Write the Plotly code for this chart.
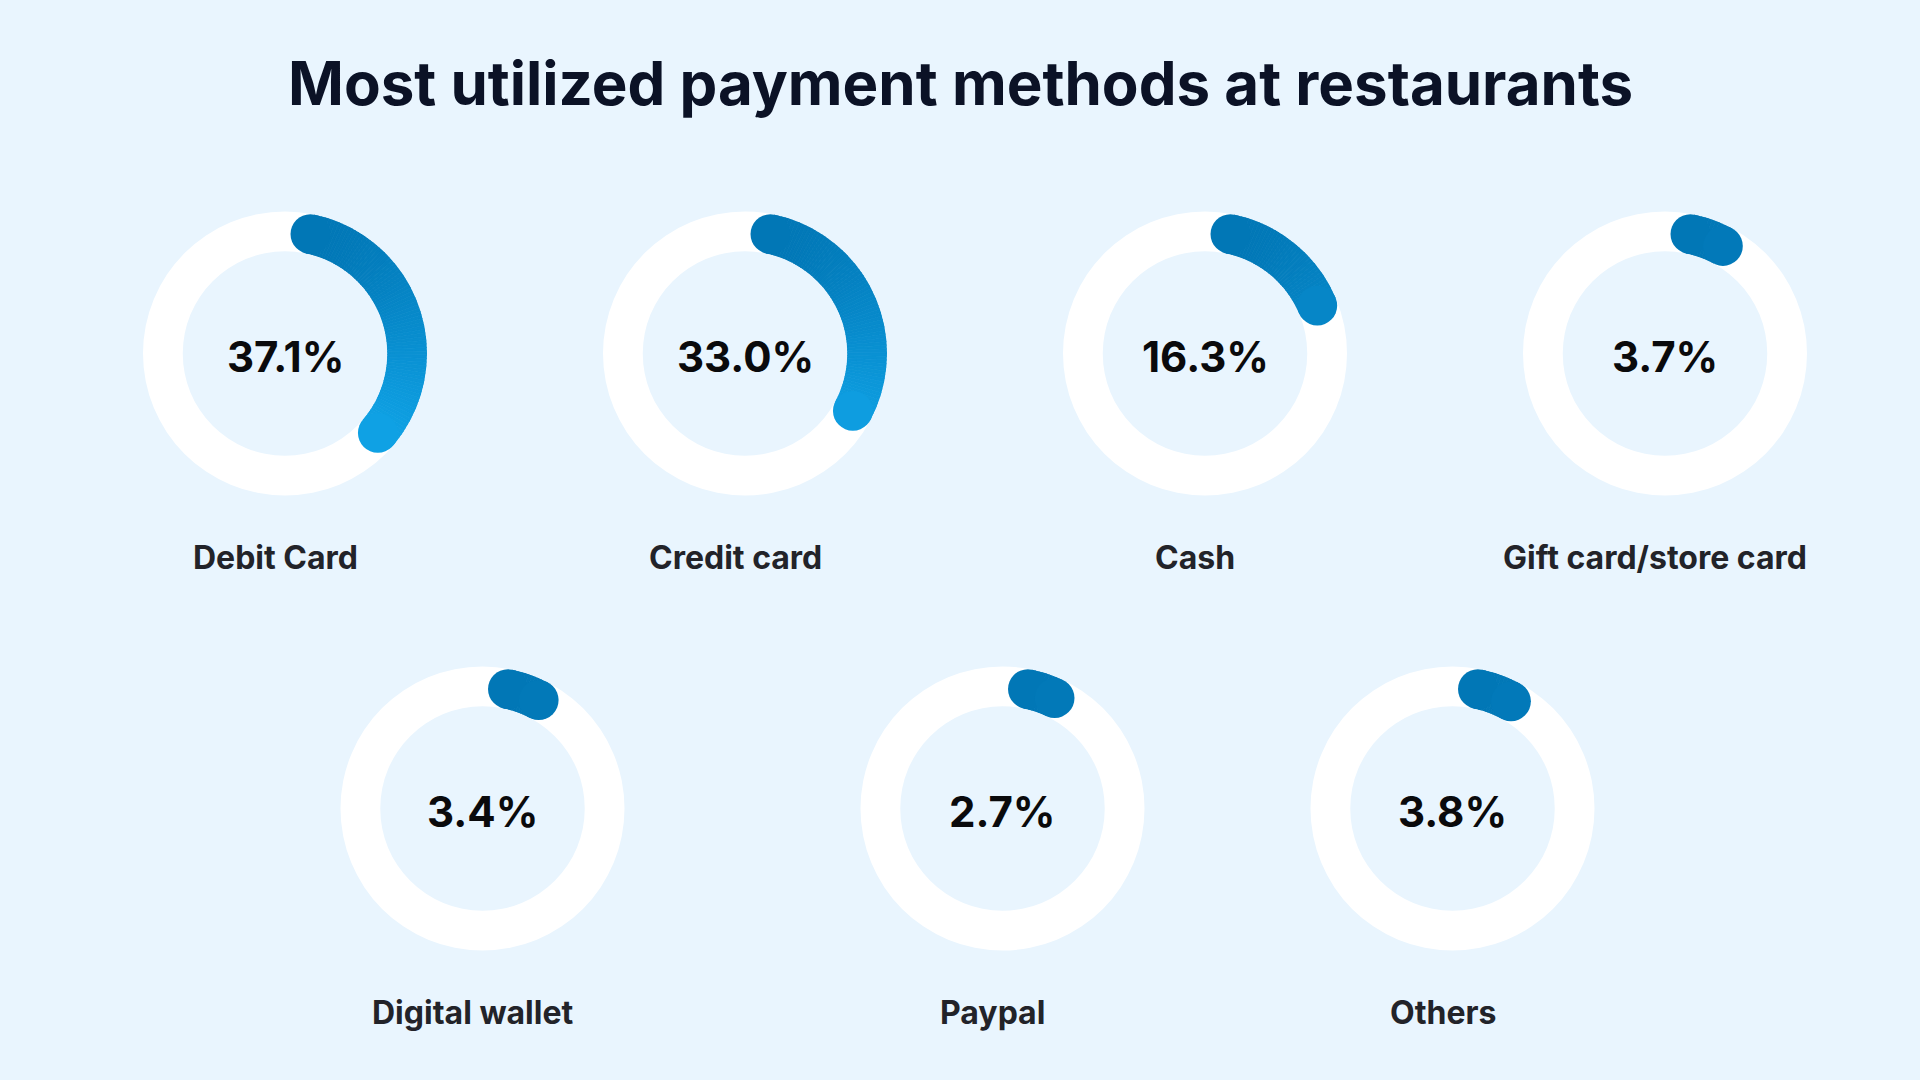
import numpy as np
import plotly.graph_objects as go

# ---------------- data ----------------
methods = ["Debit Card", "Credit card", "Cash", "Gift card/store card",
           "Digital wallet", "Paypal", "Others"]
shares = [37.1, 33.0, 16.3, 3.7, 3.4, 2.7, 3.8]
title_text = "Most utilized payment methods at restaurants"

# ---------------- layout constants ----------------
W, H = 1920, 1080
BG = "#E9F5FE"
TRACK = "#FFFFFF"
DARK = (1, 118, 181)
LIGHT = (15, 161, 228)
R_OUT = 142          # px outer radius
HOLE = 0.72          # inner / outer
RING_PX = R_OUT * (1 - HOLE)
# grid of ring centres (px): 4 on the first row, 3 on the second
row_y = [353.5, 808.5]
col_x = [[285, 745, 1205, 1665], [482.5, 1002.5, 1452.5]]
LABEL_DY = 204       # px from ring centre to category label
LABEL_DX = -10
ARC_START = 12       # deg, first rounded cap centre
ARC_OFFSET = 5       # deg
ARC_GAIN = 0.85      # visual gain of the arc sweep


def mix(t):
    t = float(np.clip(t, 0, 1))
    c = [round(DARK[i] + (LIGHT[i] - DARK[i]) * t) for i in range(3)]
    return "rgb(%d,%d,%d)" % tuple(c)


def color_at(theta_deg):
    yrel = (1 - np.cos(np.radians(theta_deg))) / 2
    return mix(yrel / 0.8)


positions = []
for r, xs in enumerate(col_x):
    for x in xs:
        positions.append((x, row_y[r]))

fig = go.Figure()
layout_polars = {}
annotations = []

for i, (name, val) in enumerate(zip(methods, shares)):
    cx, cy = positions[i]
    key = "polar" if i == 0 else "polar%d" % (i + 1)
    sub = key
    layout_polars[key] = dict(
        domain=dict(x=[(cx - R_OUT) / W, (cx + R_OUT) / W],
                    y=[1 - (cy + R_OUT) / H, 1 - (cy - R_OUT) / H]),
        hole=HOLE,
        bgcolor=TRACK,
        bargap=0,
        angularaxis=dict(direction="clockwise", rotation=90, visible=False,
                         showgrid=False, showline=False, ticks=""),
        radialaxis=dict(range=[0, 1], visible=False, showgrid=False,
                        showline=False, ticks=""),
    )

    th_s = ARC_START
    th_e = ARC_START + ARC_OFFSET + ARC_GAIN * val * 3.6
    n = max(2, int(np.ceil((th_e - th_s) / 1.5)))
    edges = np.linspace(th_s, th_e, n + 1)
    mids = (edges[:-1] + edges[1:]) / 2
    widths = np.diff(edges)
    cols = [color_at(m) for m in mids]
    fig.add_trace(go.Barpolar(
        r=[1] * n, theta=mids, width=widths, base=0,
        marker=dict(color=cols, line=dict(color=cols, width=0.8)),
        hoverinfo="skip", showlegend=False, subplot=sub))
    fig.add_trace(go.Scatterpolar(
        r=[0.5, 0.5], theta=[th_s, th_e], mode="markers",
        marker=dict(size=RING_PX, color=[color_at(th_s), color_at(th_e)],
                    line=dict(width=0)),
        cliponaxis=False, hoverinfo="skip", showlegend=False, subplot=sub))

    annotations.append(dict(
        x=cx / W, y=1 - (cy + 3) / H, xref="paper", yref="paper",
        text="%.1f%%" % val, showarrow=False, xanchor="center", yanchor="middle",
        font=dict(family="Inter", size=42, color="#0A0A0C", weight=700)))
    annotations.append(dict(
        x=(cx + LABEL_DX) / W, y=1 - (cy + LABEL_DY) / H, xref="paper", yref="paper",
        text=name, showarrow=False, xanchor="center", yanchor="middle",
        font=dict(family="Inter", size=32, color="#222329", weight=700)))

annotations.append(dict(
    x=0.5, y=1 - 83 / H, xref="paper", yref="paper", text=title_text,
    showarrow=False, xanchor="center", yanchor="middle",
    font=dict(family="Inter", size=60, color="#0B1226", weight=700)))

fig.update_layout(
    width=W, height=H, margin=dict(l=0, r=0, t=0, b=0),
    paper_bgcolor=BG, plot_bgcolor=BG, showlegend=False,
    annotations=annotations, **layout_polars)

fig.write_html("out.html", config=dict(displayModeBar=False))
